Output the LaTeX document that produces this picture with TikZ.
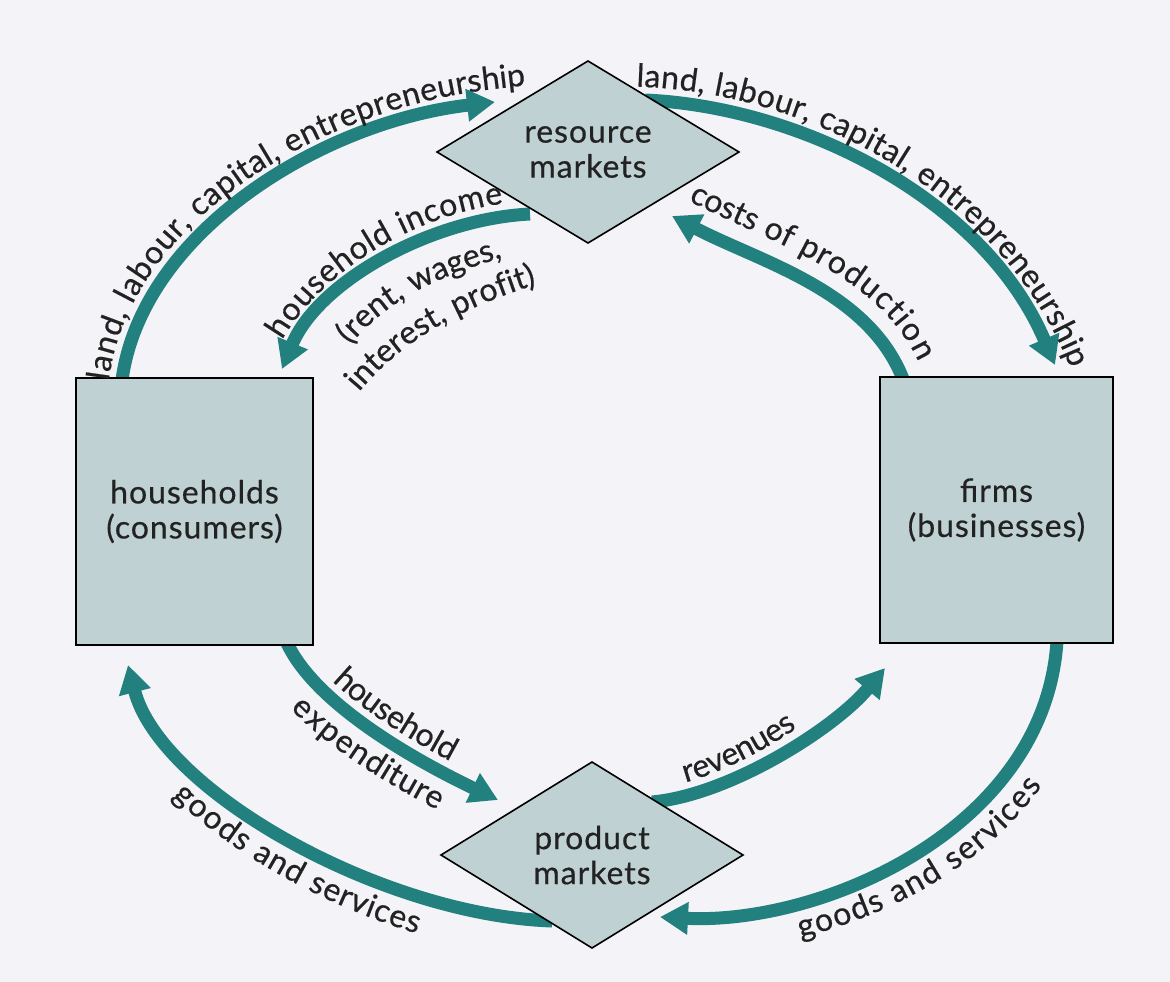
\documentclass[tikz,border=0pt]{standalone}
\usepackage{fontspec}
\setmainfont{Lato}[LetterSpace=3,FakeBold=0.5]
\usetikzlibrary{shapes.geometric,arrows.meta,decorations.text,calc,backgrounds}
\definecolor{bg}{HTML}{F4F4F8}
\definecolor{boxfill}{HTML}{BFD1D2}
\definecolor{flowc}{HTML}{22807F}
\definecolor{txt}{HTML}{222222}
\newcommand\lbl{\fontsize{32}{35}\selectfont}
\newcommand\arclabel[7]{\path[decorate,decoration={text along path,text color=txt,text align={#7},raise=#5,text={|\lbl|#6}}] ($#1!-120pt!#2$) -- #1 .. controls #2 and #3 .. #4 -- ($#4!-120pt!#3$);}
\begin{document}
\begin{tikzpicture}[x=1pt,y=-1pt,
  box/.style={draw=black, line width=1.6pt, fill=boxfill, text=txt, font=\lbl, align=center, inner sep=0pt, outer sep=0pt},
  flow/.style={draw=flowc, line width=13pt, -{Triangle[length=28pt,width=31pt]}}]
\useasboundingbox (0,0) rectangle (1170,982);
% nodes
\node[box, minimum width=237, minimum height=267] (hh) at (194.5,511.5) {households\\(consumers)};
\node[box, minimum width=233, minimum height=266] (firms) at (996.5,510) {firms\\(businesses)};
\node[box, diamond, aspect=1.66, minimum width=302, minimum height=182] (rm) at (588,152) {resource\\markets};
\node[box, diamond, aspect=1.66, minimum width=302, minimum height=186] (pm) at (592,855) {product\\markets};
% connector end points
\coordinate (a1s) at ($(hh.north west)+(46,2)$);
\coordinate (a1e) at ($(rm.center)+(-93,-50)$);
\coordinate (a2s) at ($(rm.center)+(57,-52)$);
\coordinate (a2e) at ($(firms.north west)+(175,-12)$);
\coordinate (a3s) at ($(firms.north west)+(23,2)$);
\coordinate (a3e) at ($(rm.center)+(84,64)$);
\coordinate (a4s) at ($(rm.center)+(-58,62)$);
\coordinate (a4e) at ($(hh.north west)+(206,-9)$);
\coordinate (a5s) at ($(hh.south west)+(211,-2)$);
\coordinate (a5e) at ($(pm.center)+(-94,-55)$);
\coordinate (a6s) at ($(pm.center)+(-40,66)$);
\coordinate (a6e) at ($(hh.south west)+(52,20)$);
\coordinate (a7s) at ($(pm.center)+(60,-53)$);
\coordinate (a7e) at ($(firms.south west)+(5,25)$);
\coordinate (a8s) at ($(firms.south west)+(177,-2)$);
\coordinate (a8e) at ($(pm.center)+(68,62)$);
\begin{scope}[on background layer]
\fill[bg] (0,0) rectangle (1170,982);
\draw[flow] (a1s) .. controls (142,232) and (322,122) .. (a1e);
\draw[flow] (a2s) .. controls (803,107) and (985,200) .. (a2e);
\draw[flow] (a3s) .. controls (868,290) and (760,262) .. (a3e);
\draw[flow] (a4s) .. controls (430,219) and (318,282) .. (a4e);
\draw[flow] (a5s) .. controls (317,707) and (423,764) .. (a5e);
\draw[flow] (a6s) .. controls (380,915) and (160,790) .. (a6e);
\draw[flow] (a7s) .. controls (730,795) and (835,728) .. (a7e);
\draw[flow] (a8s) .. controls (1045,830) and (820,925) .. (a8e);
\end{scope}
% labels
\path[decorate,decoration={text along path,text color=txt,text align=center,raise=13pt,text={|\lbl|land, labour, capital, entrepreneurship}}]
  ($(a1s)!-120pt!(142,232)$) -- (a1s) .. controls (142,232) and (322,122) .. (a1e) -- ($(a1e)!-150pt!(322,122)$);
\arclabel{(a2s)}{(803,107)}{(985,200)}{(a2e)}{13pt}{land, labour, capital, entrepreneurship}{center}
\arclabel{(a3e)}{(760,262)}{(868,290)}{(a3s)}{21pt}{costs of production}{center}
\arclabel{(a4e)}{(318,282)}{(430,219)}{(a4s)}{13pt}{household income}{center}
\arclabel{(a5s)}{(317,707)}{(423,764)}{(a5e)}{13pt}{household}{center}
\arclabel{(a5s)}{(317,707)}{(423,764)}{(a5e)}{-36pt}{expenditure}{center}
\arclabel{(a6e)}{(160,790)}{(380,915)}{(a6s)}{-36pt}{goods and services}{center}
\arclabel{(a7s)}{(730,795)}{(835,728)}{(a7e)}{13pt}{revenues}{left indent=158pt}
\arclabel{(a8e)}{(820,925)}{(1045,830)}{(a8s)}{-36pt}{goods and services}{center}
\path[decorate,decoration={text along path,text color=txt,text={|\lbl|(rent, wages,}}] (350,345) .. controls (387,302) and (432,274) .. (542,247);
\path[decorate,decoration={text along path,text color=txt,text={|\lbl|interest, profit)}}] (359,392) .. controls (397,347) and (452,307) .. (562,277);
\end{tikzpicture}
\end{document}
